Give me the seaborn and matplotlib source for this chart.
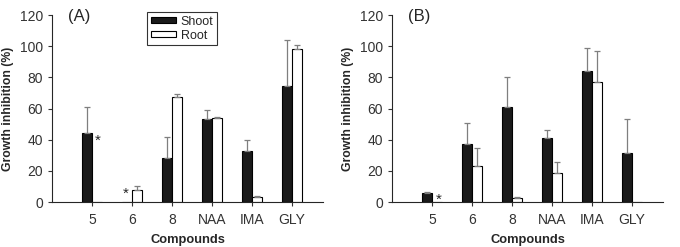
import numpy as np
import pandas as pd
import matplotlib
matplotlib.use("Agg")
import matplotlib.pyplot as plt
import seaborn as sns

compounds = ["5", "6", "8", "NAA", "IMA", "GLY"]

# panel A
a_shoot = [44, 0, 28, 53, 32.5, 74.5]
a_shoot_err = [17, 0, 14, 6, 7.5, 29.5]
a_root = [0, 7.5, 67.5, 54, 3.5, 98]
a_root_err = [0, 3, 2, 0.3, 0.5, 3]

# panel B
b_shoot = [5.5, 37, 61, 41, 84, 31.5]
b_shoot_err = [1, 14, 19, 5, 15, 22]
b_root = [0, 23, 2.5, 18.5, 77, 0]
b_root_err = [0, 11.5, 1, 7, 20, 0]

sns.set_style("ticks")
plt.rcParams["font.family"] = ["Liberation Sans", "DejaVu Sans"]


def make_df(shoot, shoot_err, root, root_err):
    df = pd.DataFrame({
        "Compound": compounds * 2,
        "Part": ["Shoot"] * len(compounds) + ["Root"] * len(compounds),
        "Value": shoot + root,
        "Err": shoot_err + root_err,
    })
    return df


def draw_panel(ax, df, label, legend=False):
    sns.barplot(data=df, x="Compound", y="Value", hue="Part", order=compounds,
                hue_order=["Shoot", "Root"], palette={"Shoot": "#1a1a1a", "Root": "white"},
                edgecolor="black", linewidth=0.8, width=0.5, errorbar=None,
                legend=legend, ax=ax)
    # one-sided (upper) error bars on every bar
    for patch, (_, row) in zip(ax.patches, df.iterrows()):
        if row["Err"] <= 0:
            continue
        xc = patch.get_x() + patch.get_width() / 2
        ax.errorbar(xc, row["Value"], yerr=[[0], [row["Err"]]], fmt="none",
                    ecolor="#7f7f7f", elinewidth=0.9, capsize=2.5, capthick=0.9, zorder=1)
    ax.set_ylim(0, 120)
    ax.set_xlim(-1, 5.78)
    ax.set_yticks([0, 20, 40, 60, 80, 100, 120])
    ax.tick_params(axis="both", labelsize=10, colors="#333333", length=3, width=0.8)
    ax.tick_params(axis="x", pad=5)
    ax.set_xlabel("Compounds", fontsize=9.3, fontweight="bold", labelpad=5)
    ax.set_ylabel("Growth inhibition (%)", fontsize=8.8, fontweight="bold", labelpad=4)
    ax.text(0.06, 0.99, label, transform=ax.transAxes, fontsize=12, va="center")
    sns.despine(ax=ax)


fig = plt.figure(figsize=(6.8, 2.47), dpi=100)
ax1 = fig.add_axes([0.0765, 0.182, 0.3985, 0.757])
ax2 = fig.add_axes([0.5765, 0.182, 0.3985, 0.757])

draw_panel(ax1, make_df(a_shoot, a_shoot_err, a_root, a_root_err), "(A)", legend=True)
draw_panel(ax2, make_df(b_shoot, b_shoot_err, b_root, b_root_err), "(B)")

# significance marks
ax1.text(0.14, 39, "*", fontsize=11, ha="center", va="center")
ax1.text(0.85, 5, "*", fontsize=11, ha="center", va="center")
ax2.text(0.18, 1.5, "*", fontsize=11, ha="center", va="center")

leg = ax1.legend(loc="upper left", bbox_to_anchor=(0.35, 1.016), fontsize=9,
                 frameon=True, fancybox=False, edgecolor="black",
                 handlelength=2.0, handleheight=0.35, labelspacing=0.15,
                 borderpad=0.3, handletextpad=0.4, borderaxespad=0)
leg.get_frame().set_linewidth(0.8)

fig.savefig("out.png", dpi=100)
